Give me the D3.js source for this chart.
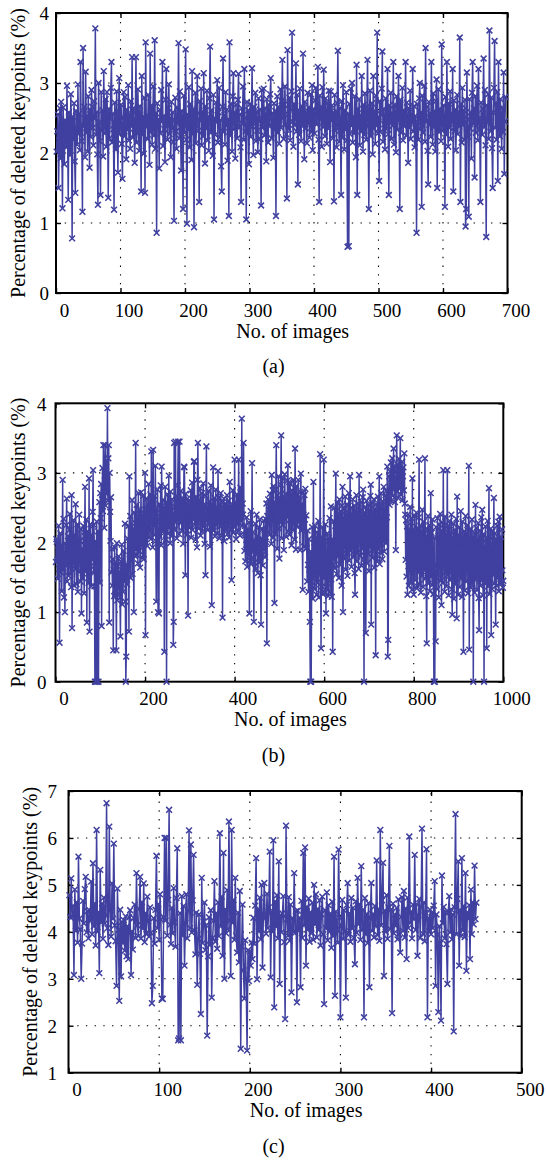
<!DOCTYPE html>
<html>
<head>
<meta charset="utf-8">
<script src="https://cdn.jsdelivr.net/npm/d3@7"></script>
<style>
  html, body { margin: 0; padding: 0; background: #fff; }
  svg { display: block; }
  text { font-family: "Liberation Serif", "Times New Roman", serif; }
</style>
</head>
<body>
<svg id="fig" width="547" height="1162" font-family="Liberation Serif, Times New Roman, serif"></svg>
<script>
// Percentage of deleted keypoints per image, one array per data set
const deletedPctA = [
  2.02,2.31,2.55,1.50,2.18,2.64,1.92,2.73,2.25,1.21,2.65,2.39,1.84,2.47,2.34,2.08,2.96,2.20,1.33,2.58,
  2.43,1.97,2.84,2.30,0.78,2.52,2.19,2.71,1.88,1.43,2.60,2.35,2.12,2.98,2.27,2.56,2.04,3.30,2.41,2.17,
  1.16,3.50,2.38,2.66,1.94,3.16,2.29,2.53,2.02,2.81,2.44,1.79,2.62,2.23,2.90,2.66,2.36,2.11,2.74,2.49,
  3.78,2.26,2.58,1.98,1.26,3.00,2.44,2.17,1.40,2.87,2.32,2.61,1.95,3.17,2.50,2.28,2.77,2.09,2.87,2.39,
  1.36,2.63,2.21,2.49,2.93,3.30,2.15,2.56,2.34,1.19,2.72,2.42,2.05,2.88,2.30,1.72,2.59,3.07,2.27,2.46,
  2.69,2.13,1.63,2.51,2.87,2.24,2.80,2.40,1.91,2.62,2.33,2.97,2.18,2.55,2.06,2.74,2.38,3.37,2.22,2.64,
  2.35,1.86,2.58,3.37,2.15,2.46,2.91,2.29,2.03,2.67,2.42,1.45,3.10,2.26,2.52,1.99,2.79,1.43,3.58,2.37,
  2.54,2.20,2.83,2.41,1.83,3.42,2.30,2.68,2.12,2.49,2.95,2.25,3.61,2.06,2.57,0.86,2.71,2.36,2.48,1.78,
  2.62,2.28,2.90,2.45,3.30,2.10,2.53,2.34,1.87,2.76,3.20,2.40,2.19,2.64,2.98,2.27,2.50,1.94,2.73,2.35,
  2.58,2.16,1.03,2.47,2.79,2.31,2.06,2.65,2.43,3.57,2.21,2.88,2.37,1.75,2.60,2.44,1.20,2.82,2.29,2.51,
  3.48,2.19,0.99,2.55,2.33,2.94,2.08,2.70,2.41,1.90,3.17,2.27,2.63,0.94,2.49,2.86,2.14,2.38,3.10,2.57,
  2.32,1.30,2.74,2.46,2.92,2.11,2.59,2.24,3.14,2.40,1.85,2.67,2.35,2.89,2.18,2.52,2.03,2.78,3.52,2.29,
  2.61,2.37,1.96,2.83,1.05,2.50,2.26,2.72,2.44,3.04,2.15,2.58,2.93,2.22,2.47,1.81,1.45,2.66,3.35,2.30,
  2.54,2.12,2.87,2.39,2.62,1.89,2.48,1.10,3.58,2.25,2.70,2.44,2.02,2.81,3.14,2.34,2.58,1.92,2.69,2.43,
  2.21,2.76,3.13,2.36,2.55,2.08,1.30,2.64,2.42,2.95,2.19,3.20,2.50,2.31,1.05,2.73,2.27,2.61,1.84,2.46,
  2.70,2.23,2.52,3.21,2.38,1.97,2.66,2.44,2.86,2.17,2.59,2.32,2.01,2.78,2.45,2.62,2.20,1.25,2.90,2.36,
  2.48,2.92,2.25,2.64,2.40,1.88,2.77,2.53,2.15,2.69,2.38,2.84,3.07,2.21,2.57,2.44,1.93,2.71,2.33,2.60,
  1.10,2.47,2.81,2.29,2.66,2.13,2.58,2.91,2.36,2.74,3.33,2.50,2.20,2.69,2.95,2.41,2.27,1.35,3.47,2.55,
  2.34,2.79,2.18,2.62,2.88,3.72,2.45,2.09,2.70,2.40,2.56,3.28,2.31,2.83,1.55,2.61,2.26,2.92,2.43,2.17,
  2.67,2.38,3.42,2.50,1.91,2.73,2.35,2.58,2.14,2.86,2.42,2.65,2.22,2.49,2.84,2.30,2.97,2.04,2.63,2.44,
  2.28,2.75,2.93,2.41,2.60,3.23,2.19,1.30,2.82,2.48,2.66,2.09,2.94,2.37,3.19,2.55,2.24,2.78,2.46,2.13,
  2.72,2.35,2.89,2.53,1.87,2.88,2.46,2.68,2.21,2.58,1.31,2.83,2.32,2.59,2.08,2.71,3.46,2.40,2.16,2.64,
  2.37,1.40,2.74,2.22,2.97,2.49,2.05,2.61,2.33,2.87,2.18,0.66,2.56,0.67,2.70,2.27,2.92,2.39,3.00,2.15,
  2.52,2.28,2.81,2.46,1.94,3.26,1.40,2.63,2.37,2.77,2.11,2.54,2.31,3.10,2.48,2.02,2.69,2.26,2.85,2.43,
  2.19,2.66,3.33,2.38,1.20,2.57,2.89,2.24,2.45,2.71,1.98,3.10,2.35,2.60,2.13,2.82,2.40,3.72,2.28,2.51,
  1.60,2.74,2.30,2.55,2.92,3.45,2.16,2.63,2.41,2.05,2.78,2.34,2.50,3.20,2.27,1.40,2.68,2.44,2.86,2.20,
  2.57,2.39,3.30,2.12,2.69,2.45,2.01,2.81,2.33,2.62,3.10,2.47,1.20,2.76,2.29,2.54,2.93,2.18,2.61,2.38,
  2.50,3.30,2.25,2.72,2.41,1.86,2.64,2.36,2.89,2.20,2.56,2.43,3.20,2.31,2.67,2.08,2.53,2.27,0.86,2.70,
  2.44,2.19,2.78,3.00,2.35,2.58,1.23,2.82,2.29,2.51,2.96,2.16,3.50,2.45,2.66,2.03,1.55,2.73,2.40,2.57,
  2.23,3.30,2.49,2.12,2.85,2.37,2.60,2.02,2.74,3.05,1.50,2.54,2.91,2.30,2.63,2.41,2.17,3.55,2.48,2.32,
  2.68,2.42,1.23,2.80,2.26,3.30,2.51,2.09,2.71,2.36,2.88,2.20,2.57,2.44,3.20,1.45,2.75,2.31,2.62,2.04,
  2.47,2.83,2.27,2.59,2.38,3.65,1.30,2.70,2.15,2.93,2.40,2.61,2.19,2.76,0.95,1.20,3.15,2.48,2.23,1.09,
  2.77,2.35,2.58,1.92,2.86,3.30,2.42,2.64,1.65,2.81,2.29,2.55,2.96,2.18,3.20,2.49,2.34,1.30,2.72,2.45,
  2.26,2.63,3.35,2.37,2.90,2.11,0.80,2.68,2.44,2.84,2.20,3.75,2.52,2.31,2.79,2.07,1.50,2.58,2.93,3.60,
  2.36,2.71,2.19,2.87,1.60,3.30,2.50,2.24,2.77,2.41,2.06,2.65,2.30,3.15,1.70,2.45,2.80
];

const deletedPctB = [
  1.72,2.05,2.01,1.75,1.48,1.96,2.24,1.62,0.56,1.81,2.13,1.57,1.96,1.30,1.84,2.90,1.63,2.34,1.21,1.86,
  1.00,1.98,1.67,2.25,2.63,1.44,1.88,2.09,1.52,1.77,2.18,2.41,1.55,1.99,1.36,2.68,0.77,2.04,1.70,2.32,
  1.83,1.38,2.11,1.62,2.55,1.74,1.40,1.96,2.26,1.29,1.87,1.58,2.40,1.75,2.02,1.44,2.19,0.98,1.91,1.63,
  1.49,2.24,1.86,1.27,2.09,2.80,1.58,1.92,2.33,0.85,2.16,1.70,2.05,1.42,2.92,0.72,1.89,2.26,1.66,1.37,
  2.11,1.75,2.44,3.04,1.56,2.25,1.37,0.00,2.02,0.00,1.73,2.30,0.00,1.48,2.16,0.00,1.90,2.58,1.42,2.71,
  2.35,2.84,0.80,2.62,3.07,2.45,3.40,2.78,2.21,2.96,3.40,2.53,3.15,2.70,2.88,3.93,2.60,3.21,3.40,0.85,
  3.00,2.44,2.02,2.65,1.57,1.91,1.38,1.76,0.45,1.61,1.23,1.93,1.25,1.72,1.44,0.45,1.99,1.17,1.66,1.34,
  1.80,1.26,1.58,1.21,0.65,1.73,1.42,1.97,1.11,1.64,1.29,1.88,1.44,1.52,2.27,1.15,0.00,0.36,1.69,1.40,
  2.06,1.63,2.24,0.72,2.95,1.76,2.38,1.49,2.17,1.84,2.61,1.55,2.19,1.92,1.00,2.43,1.81,2.28,3.43,1.90,
  2.54,1.82,2.35,1.70,2.71,2.13,1.88,2.47,1.64,2.26,2.72,1.95,2.39,1.78,2.20,2.67,1.76,2.42,2.04,3.00,
  0.67,2.31,2.09,2.63,1.95,2.46,2.22,2.84,2.08,2.52,2.17,2.69,2.05,3.31,2.28,2.60,1.93,3.33,2.36,2.11,
  2.67,2.24,3.10,2.02,1.15,2.48,2.30,2.76,1.00,2.19,0.98,2.55,2.08,2.37,2.82,1.96,3.09,2.43,2.15,2.61,
  2.27,2.50,0.43,2.39,2.80,2.04,2.58,0.00,2.32,2.69,2.13,2.45,2.96,2.21,2.54,1.99,2.73,2.34,2.09,2.62,
  2.41,2.25,0.53,0.86,3.43,2.18,2.51,3.45,2.30,2.67,2.06,2.48,2.82,3.45,2.37,2.12,3.45,2.56,2.28,2.74,
  2.43,2.17,2.64,2.35,1.98,2.59,3.09,3.08,2.24,1.53,2.70,2.32,2.49,2.11,2.63,0.95,2.38,2.60,2.21,2.52,
  2.29,2.75,2.07,2.44,2.86,2.18,2.57,2.33,3.16,3.17,2.25,2.48,2.04,2.66,2.37,1.93,2.90,3.43,2.42,2.20,
  2.61,2.34,2.78,2.10,2.53,2.29,2.71,2.16,2.47,2.85,2.23,2.55,1.98,2.39,1.53,2.67,3.38,2.32,2.50,2.18,
  2.46,2.74,2.27,2.59,1.94,2.40,2.82,2.21,1.10,2.53,2.35,3.08,2.17,2.48,2.64,2.09,2.38,2.76,2.25,2.51,
  2.13,2.42,3.03,2.30,2.65,2.06,2.47,2.23,2.71,2.36,2.10,2.58,0.92,2.45,2.27,2.63,2.02,2.39,2.56,2.18,
  2.49,2.31,2.68,2.12,2.43,2.25,2.60,2.07,2.87,2.36,2.52,2.20,1.46,2.54,2.29,2.75,2.14,2.47,2.33,3.19,
  2.22,2.58,2.05,2.45,2.69,2.28,2.51,2.16,3.19,2.37,2.62,2.10,2.79,2.31,2.48,3.78,2.24,2.56,2.40,3.43,
  2.12,1.88,2.24,1.73,2.11,1.97,2.36,1.65,1.96,2.18,1.81,2.29,0.98,2.07,1.74,2.45,1.69,1.93,3.14,1.86,
  2.15,1.78,0.86,2.03,1.71,2.27,1.62,1.97,2.40,1.84,2.09,1.56,1.99,2.22,1.71,2.33,1.85,1.53,0.82,2.06,
  1.82,2.19,1.67,2.04,2.31,1.90,2.18,1.79,2.34,2.01,2.56,0.55,2.38,2.15,2.62,2.29,2.47,2.11,2.70,2.36,
  2.54,1.98,2.97,2.42,2.75,2.07,2.81,2.39,1.13,2.58,2.13,2.76,3.40,2.49,1.91,2.68,2.44,2.95,2.20,1.77,
  2.62,2.30,2.83,3.54,2.06,2.57,2.92,2.25,2.64,1.89,2.51,2.98,2.33,2.70,2.08,2.55,2.37,2.89,3.11,2.16,
  2.43,2.87,2.11,2.84,2.32,2.69,1.96,2.75,2.48,2.18,2.90,2.27,2.61,2.04,3.35,2.53,1.90,2.81,2.35,2.68,
  2.22,2.90,2.29,2.66,2.51,1.89,2.73,2.99,2.17,2.55,2.25,1.32,2.72,2.40,1.94,2.68,2.33,2.77,1.91,2.39,
  1.92,1.44,2.17,1.68,1.29,2.05,1.61,0.86,0.00,1.87,0.00,1.38,2.22,1.61,1.19,2.87,1.48,2.00,1.33,2.24,
  1.56,2.07,1.25,2.15,1.42,1.89,2.31,1.21,1.94,1.53,3.27,1.65,0.48,2.08,1.37,2.22,1.26,1.94,3.19,1.49,
  2.02,1.28,2.26,0.98,1.84,1.35,2.13,1.71,1.23,2.07,1.50,2.35,1.29,1.96,2.52,1.47,1.22,2.05,0.43,1.68,
  2.31,1.76,2.50,1.63,2.24,2.99,2.01,1.55,2.36,2.57,1.80,2.38,1.49,2.62,2.07,1.68,2.45,1.89,1.38,2.53,
  2.80,1.00,2.35,1.77,2.48,1.93,2.66,1.61,2.39,1.84,2.55,1.52,2.43,1.98,2.71,1.74,2.37,2.95,1.88,2.50,
  1.65,2.41,1.94,2.62,1.79,2.34,2.53,1.56,1.25,2.47,1.90,2.68,1.73,2.39,1.85,2.56,1.62,2.97,2.00,2.45,
  1.81,2.58,1.67,2.36,1.92,2.65,2.76,1.75,0.00,2.43,1.87,2.51,0.70,2.29,2.60,1.70,2.38,1.84,2.54,1.59,
  2.46,1.93,2.67,2.83,0.82,2.31,2.57,1.78,2.40,1.89,2.62,1.64,2.48,1.96,0.38,2.55,1.82,2.37,1.73,2.66,
  1.91,2.44,2.95,1.69,2.52,1.98,2.71,1.85,2.39,1.76,2.59,2.03,2.80,1.87,2.47,2.04,2.68,1.99,2.74,2.36,
  3.09,0.36,0.60,2.62,2.95,2.54,3.02,2.71,3.15,2.60,2.93,3.21,2.67,2.98,3.35,2.76,3.10,2.58,2.91,1.89,
  3.04,3.54,2.73,3.12,2.64,2.97,3.20,2.78,3.06,3.50,2.69,3.01,2.82,3.16,2.61,2.95,3.08,2.75,3.28,2.56,
  2.40,1.75,2.32,1.51,2.23,1.25,2.40,1.66,1.38,2.17,1.59,2.51,1.43,2.08,2.35,1.32,2.92,1.54,2.19,1.25,
  2.01,2.38,1.46,2.13,1.62,2.43,1.34,1.37,2.21,1.57,2.36,3.19,1.40,2.05,2.24,1.28,2.16,1.52,2.47,1.67,
  1.36,2.30,1.60,2.12,3.21,1.48,2.09,1.23,0.55,2.19,1.56,2.38,1.41,2.03,2.25,1.30,1.96,2.71,1.51,2.14,
  1.39,2.33,1.62,1.26,0.00,2.07,0.00,1.50,0.58,2.22,1.68,1.33,2.35,1.54,2.09,1.21,2.26,1.63,2.41,1.45,
  2.17,1.10,2.02,2.29,1.42,3.04,1.65,2.20,1.29,2.37,1.58,2.12,1.37,2.04,3.04,1.53,2.24,1.24,1.99,2.31,
  1.46,2.15,1.61,2.40,1.33,0.96,2.08,1.52,2.27,1.19,1.97,2.18,1.40,2.05,2.34,0.91,2.66,1.57,1.25,2.11,
  1.63,2.22,1.36,2.00,2.45,1.48,2.07,1.22,2.30,1.55,0.43,1.98,2.16,1.31,2.03,2.38,1.44,2.11,1.59,2.25,
  1.27,1.96,3.10,0.46,2.04,1.50,2.19,1.35,1.92,2.33,1.41,2.08,0.00,1.56,2.14,1.28,1.99,2.54,1.47,2.21,
  1.32,2.05,1.53,2.28,1.20,0.74,1.96,2.17,1.38,2.01,2.36,1.45,2.47,1.59,1.24,2.12,0.00,1.94,1.42,2.23,
  1.51,2.06,0.48,1.98,2.31,1.37,1.90,2.78,1.26,2.09,1.48,2.20,0.67,1.95,1.33,2.16,1.54,2.02,2.64,1.41,
  2.13,1.57,0.82,2.05,1.38,2.24,1.63,1.49,2.30,1.30,2.02,2.37,1.52,1.41,2.08,1.43,2.19,1.60,1.35,1.45
];

const deletedPctC = [
  4.78,4.31,5.14,4.32,4.55,3.08,4.90,4.02,4.63,3.77,5.60,4.28,4.05,3.00,3.75,4.66,4.18,4.91,5.17,3.99,
  4.44,3.86,4.46,4.23,5.07,3.95,5.46,4.12,4.60,3.71,6.17,4.00,4.42,3.12,5.32,4.20,4.60,3.85,4.73,4.18,
  4.35,6.74,4.08,3.72,6.24,4.46,3.90,5.03,4.28,5.88,4.14,3.80,2.85,4.92,4.04,2.53,4.47,3.05,4.21,3.76,
  4.25,3.60,4.33,3.48,4.12,3.42,4.31,4.46,3.08,4.01,3.62,4.29,4.58,3.87,5.25,4.14,3.91,4.49,5.17,3.86,
  4.63,4.07,5.03,3.78,4.40,3.95,4.75,4.23,3.90,4.52,3.98,2.48,2.85,4.29,3.75,4.47,5.62,4.08,4.59,3.83,
  4.80,4.26,2.58,2.57,4.31,6.00,4.24,6.00,3.92,4.68,6.60,4.15,3.74,4.51,3.97,4.93,4.20,3.68,4.72,5.78,
  1.69,1.73,4.40,1.69,4.76,3.92,4.55,3.28,4.19,4.80,3.86,4.44,6.16,4.08,5.86,3.99,4.67,5.64,4.03,3.52,
  4.41,2.87,3.85,4.37,3.53,2.25,5.15,3.76,4.22,4.62,3.61,4.14,1.79,3.48,4.31,3.72,4.46,2.60,3.87,4.24,
  5.08,3.79,4.40,3.64,4.63,3.91,6.10,4.12,4.75,3.49,5.68,3.00,4.48,3.97,4.89,4.06,6.35,4.24,3.06,6.17,
  4.19,4.68,3.83,5.15,3.92,3.56,4.41,3.35,4.87,1.51,3.69,4.58,3.18,2.58,3.82,3.00,1.47,3.61,2.95,3.58,
  3.28,3.77,3.42,4.30,3.75,4.56,5.57,2.99,4.48,4.01,4.73,3.84,5.00,3.24,4.37,5.04,4.29,3.96,4.81,4.08,
  4.52,5.71,3.03,4.43,4.00,5.95,2.39,4.65,4.11,4.78,3.86,5.50,2.89,4.36,3.99,4.39,4.76,3.78,2.14,6.26,
  4.27,3.92,4.74,3.81,4.58,2.71,4.29,4.00,5.25,3.98,4.44,2.50,4.45,4.02,4.30,2.82,4.66,3.87,5.68,4.14,
  5.80,3.28,4.53,4.05,4.71,3.79,4.42,3.97,4.62,3.83,5.00,4.16,4.80,3.88,4.49,4.04,4.67,3.71,4.38,4.75,
  3.95,2.46,4.46,4.08,4.84,3.82,4.57,4.00,4.39,3.66,4.64,3.91,5.60,2.64,4.43,4.06,3.77,5.75,4.30,2.18,
  4.12,4.68,3.85,4.46,4.01,2.60,4.57,5.04,3.93,4.40,3.79,4.72,4.07,4.51,3.87,3.31,4.65,3.98,5.15,4.16,
  4.59,3.83,5.40,4.04,4.47,2.18,4.72,3.95,4.38,3.76,4.61,2.82,4.29,5.04,4.02,4.38,3.88,4.55,4.12,5.52,
  3.93,4.49,3.81,6.17,4.14,4.67,5.47,3.06,4.45,4.00,4.78,3.85,4.52,5.83,4.06,4.48,2.27,4.60,3.97,4.37,
  4.13,4.51,3.84,4.69,3.94,3.56,4.32,4.74,4.02,4.87,3.88,4.50,3.42,4.73,4.08,6.03,4.19,4.43,3.86,4.58,
  4.27,5.64,4.04,4.59,3.49,4.35,4.70,3.87,4.53,6.20,3.96,4.62,3.80,4.41,5.76,2.18,4.30,4.01,4.47,3.95,
  4.41,4.08,4.56,5.08,2.85,4.37,3.94,2.29,4.12,3.75,2.11,5.20,4.18,4.53,3.86,4.42,3.74,2.89,4.41,4.76,
  3.99,4.48,3.84,4.37,1.88,4.52,6.51,3.95,4.70,5.50,3.28,4.46,3.91,5.57,4.03,4.55,3.89,5.25,3.17,4.42,
  4.28,4.57,3.42,4.90,3.95,4.63,4.16,5.41,4.27,4.62
];

// Axis ticks
const xTicksA = [0, 100, 200, 300, 400, 500, 600, 700];
const yTicksA = [0, 1, 2, 3, 4];
const xTicksB = [0, 200, 400, 600, 800, 1000];
const yTicksB = [0, 1, 2, 3, 4];
const xTicksC = [0, 100, 200, 300, 400, 500];
const yTicksC = [1, 2, 3, 4, 5, 6, 7];

const captions = ["(a)", "(b)", "(c)"];
const xTitle = "No. of images";
const yTitle = "Percentage of deleted keypoints (%)";

const panels = [
  { values: deletedPctA, xTicks: xTicksA, yTicks: yTicksA, caption: captions[0],
    box: { left: 56, right: 507.5, top: 13, bottom: 293 }, yLabelGap: 7, yTitleX: 24.5, captionY: 373 },
  { values: deletedPctB, xTicks: xTicksB, yTicks: yTicksB, caption: captions[1],
    box: { left: 55.5, right: 503.3, top: 403.3, bottom: 681.7 }, yLabelGap: 9, yTitleX: 24.5, captionY: 762 },
  { values: deletedPctC, xTicks: xTicksC, yTicks: yTicksC, caption: captions[2],
    box: { left: 68.5, right: 521.7, top: 791, bottom: 1072.7 }, yLabelGap: 11.5, yTitleX: 36.5, captionY: 1153 }
];

const fontFamily = "Liberation Serif, Times New Roman, serif";
const lineColor = "#4040a0";
const tickFont = 19;
const titleFont = 20;
const svg = d3.select("#fig");

panels.forEach(p => {
  const b = p.box;
  const x = d3.scaleLinear().domain(d3.extent(p.xTicks)).range([b.left, b.right]);
  const y = d3.scaleLinear().domain(d3.extent(p.yTicks)).range([b.bottom, b.top]);
  const g = svg.append("g");

  // dotted grid at interior ticks
  const grid = g.append("g")
    .attr("stroke", "#000").attr("stroke-width", 1.1).attr("stroke-dasharray", "1.4,7.3");
  grid.selectAll("line.vx").data(p.xTicks.slice(1, -1)).join("line")
    .attr("x1", d => x(d)).attr("x2", d => x(d))
    .attr("y1", b.bottom).attr("y2", b.top);
  grid.selectAll("line.hy").data(p.yTicks.slice(1, -1)).join("line")
    .attr("x1", b.left).attr("x2", b.right)
    .attr("y1", d => y(d)).attr("y2", d => y(d));

  // inward tick marks on all four sides
  const styleAxis = sel => {
    sel.attr("font-family", fontFamily).attr("font-size", tickFont);
    sel.select(".domain").remove();
    sel.selectAll(".tick line").attr("stroke", "#000").attr("stroke-width", 1.4);
    sel.selectAll(".tick text").attr("fill", "#000").attr("font-family", fontFamily);
  };
  const bottomAxis = g.append("g").attr("transform", `translate(0,${b.bottom})`)
    .call(d3.axisBottom(x).tickValues(p.xTicks).tickSize(-5).tickFormat(d3.format("d")))
    .call(styleAxis);
  bottomAxis.selectAll(".tick text").attr("y", 23.5).attr("dy", null).attr("dx", 8);

  g.append("g").attr("transform", `translate(0,${b.top})`)
    .call(d3.axisTop(x).tickValues(p.xTicks).tickSize(-5).tickFormat(""))
    .call(styleAxis);

  g.append("g").attr("transform", `translate(${b.left},0)`)
    .call(d3.axisLeft(y).tickValues(p.yTicks).tickSize(-5).tickPadding(p.yLabelGap).tickFormat(d3.format("d")))
    .call(styleAxis)
    .selectAll(".tick text").attr("dy", "0.36em");

  g.append("g").attr("transform", `translate(${b.right},0)`)
    .call(d3.axisRight(y).tickValues(p.yTicks).tickSize(-5).tickFormat(""))
    .call(styleAxis);

  // axes box
  g.append("rect")
    .attr("x", b.left).attr("y", b.top)
    .attr("width", b.right - b.left).attr("height", b.bottom - b.top)
    .attr("fill", "none").attr("stroke", "#000").attr("stroke-width", 2);

  // series line with x markers
  const line = d3.line().x((d, i) => x(i + 1)).y(d => y(d));
  g.append("path").datum(p.values)
    .attr("d", line)
    .attr("fill", "none").attr("stroke", lineColor)
    .attr("stroke-width", 1.5).attr("stroke-linejoin", "round");
  const m = 2.9;
  g.append("g").selectAll("path").data(p.values).join("path")
    .attr("d", (d, i) => {
      const cx = x(i + 1), cy = y(d);
      return `M${cx - m},${cy - m}L${cx + m},${cy + m}M${cx - m},${cy + m}L${cx + m},${cy - m}`;
    })
    .attr("stroke", lineColor).attr("stroke-width", 1.5).attr("fill", "none");

  // axis titles and caption
  g.append("text")
    .attr("x", (b.left + b.right) / 2 + 11).attr("y", b.bottom + 44.5)
    .attr("text-anchor", "middle").attr("font-family", fontFamily)
    .attr("font-size", titleFont).text(xTitle);
  g.append("text")
    .attr("transform", `translate(${p.yTitleX},${(b.top + b.bottom) / 2}) rotate(-90)`)
    .attr("text-anchor", "middle").attr("font-family", fontFamily)
    .attr("font-size", titleFont).text(yTitle);
  g.append("text")
    .attr("x", 273.5).attr("y", p.captionY)
    .attr("text-anchor", "middle").attr("font-family", fontFamily)
    .attr("font-size", titleFont).text(p.caption);
});
</script>
</body>
</html>
